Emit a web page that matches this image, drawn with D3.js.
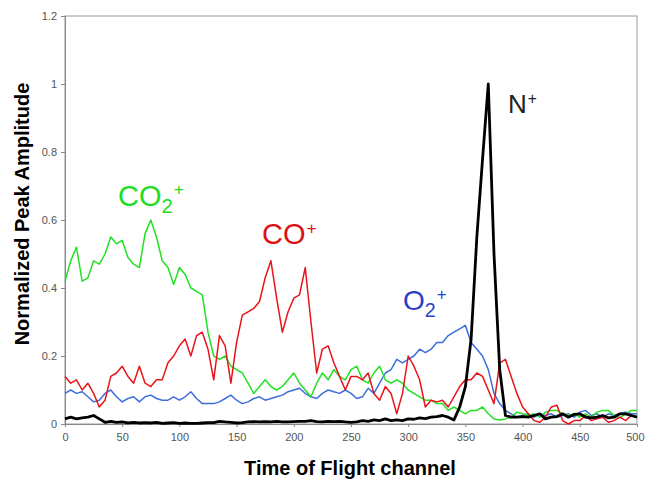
<!DOCTYPE html>
<html>
<head>
<meta charset="utf-8">
<script src="https://cdn.jsdelivr.net/npm/d3@7"></script>
<style>
  body { margin: 0; background: #fff; }
  text { font-family: "Liberation Sans", Arial, sans-serif; }
</style>
</head>
<body>
<div id="chart"></div>
<script>
// Time of flight channels (x) and normalized amplitudes
const channels = [0,5,10,15,20,25,30,35,40,45,50,55,60,65,70,75,80,85,90,95,
  100,105,110,115,120,125,130,135,140,145,150,155,160,165,170,175,180,185,190,195,
  200,205,210,215,220,225,230,235,240,245,250,255,260,265,270,275,280,285,290,295,
  300,305,310,315,320,325,330,335,340,345,350,355,360,365,370,375,380,385,390,395,
  400,405,410,415,420,425,430,435,440,445,450,455,460,465,470,475,480,485,490,495,500];

const co2Values = [0.42,0.48,0.52,0.42,0.43,0.48,0.47,0.50,0.55,0.53,0.54,0.49,0.47,0.46,0.56,0.60,0.55,0.48,0.46,0.41,
  0.46,0.44,0.40,0.39,0.38,0.27,0.20,0.19,0.20,0.17,0.16,0.15,0.12,0.09,0.11,0.13,0.11,0.10,0.11,0.13,
  0.15,0.12,0.10,0.08,0.12,0.15,0.13,0.16,0.14,0.13,0.16,0.17,0.13,0.12,0.15,0.17,0.13,0.12,0.13,0.12,
  0.10,0.09,0.08,0.07,0.07,0.06,0.06,0.04,0.05,0.04,0.03,0.04,0.04,0.05,0.03,0.015,0.012,0.015,0.02,0.035,
  0.03,0.025,0.03,0.02,0.035,0.04,0.04,0.03,0.025,0.03,0.02,0.03,0.02,0.035,0.04,0.04,0.025,0.018,0.03,0.04,0.04];

const coValues = [0.14,0.12,0.13,0.10,0.12,0.09,0.05,0.07,0.14,0.15,0.17,0.14,0.12,0.17,0.12,0.11,0.13,0.13,0.18,0.20,
  0.23,0.25,0.20,0.26,0.27,0.22,0.13,0.26,0.23,0.12,0.24,0.32,0.33,0.34,0.36,0.43,0.48,0.37,0.27,0.33,
  0.37,0.38,0.46,0.30,0.15,0.22,0.23,0.18,0.14,0.10,0.14,0.14,0.13,0.15,0.09,0.07,0.11,0.09,0.03,0.09,
  0.20,0.17,0.13,0.05,0.07,0.065,0.07,0.05,0.08,0.11,0.13,0.13,0.15,0.14,0.10,0.06,0.18,0.19,0.14,0.09,
  0.05,0.03,0.01,0.005,0.02,0.05,0.055,0.01,0.0,0.01,0.01,0.025,0.01,0.015,0.02,0.005,0.01,0.02,0.01,0.025,0.02];

const o2Values = [0.09,0.10,0.09,0.095,0.08,0.065,0.07,0.09,0.10,0.08,0.065,0.075,0.08,0.065,0.08,0.085,0.075,0.07,0.07,0.08,
  0.07,0.08,0.095,0.075,0.06,0.06,0.06,0.065,0.075,0.085,0.07,0.06,0.065,0.075,0.08,0.07,0.075,0.08,0.085,0.095,
  0.10,0.105,0.09,0.08,0.075,0.09,0.10,0.095,0.09,0.10,0.09,0.075,0.08,0.105,0.09,0.12,0.15,0.16,0.19,0.18,
  0.19,0.20,0.22,0.21,0.22,0.24,0.24,0.26,0.27,0.28,0.29,0.24,0.22,0.20,0.16,0.09,0.06,0.04,0.03,0.02,
  0.025,0.03,0.02,0.03,0.025,0.03,0.02,0.025,0.03,0.02,0.035,0.04,0.025,0.03,0.02,0.03,0.025,0.03,0.035,0.03,0.03];

const nValues = [0.015,0.02,0.015,0.018,0.02,0.025,0.015,0.005,0.008,0.005,0.006,0.003,0.005,0.003,0.004,0.003,0.005,0.002,0.003,0.004,
  0.002,0.003,0.002,0.002,0.003,0.004,0.004,0.008,0.006,0.005,0.003,0.004,0.006,0.007,0.006,0.007,0.006,0.008,0.006,0.006,
  0.007,0.008,0.008,0.01,0.007,0.006,0.008,0.007,0.008,0.006,0.005,0.006,0.01,0.008,0.012,0.01,0.015,0.01,0.012,0.01,
  0.015,0.014,0.018,0.016,0.02,0.022,0.025,0.02,0.012,0.05,0.11,0.25,0.55,0.78,1.0,0.5,0.16,0.025,0.02,0.02,
  0.022,0.02,0.025,0.03,0.015,0.02,0.022,0.03,0.02,0.028,0.03,0.02,0.018,0.02,0.025,0.018,0.02,0.03,0.03,0.025,0.02];

const xTicks = [0,50,100,150,200,250,300,350,400,450,500];
const yTicks = [0,0.2,0.4,0.6,0.8,1,1.2];

const width = 645, height = 481;
const plot = { left: 65, right: 637, top: 16, bottom: 424 };

const svg = d3.select("#chart").append("svg")
    .attr("width", width).attr("height", height);

const x = d3.scaleLinear().domain([0, 500]).range([plot.left, plot.right]);
const y = d3.scaleLinear().domain([0, 1.2]).range([plot.bottom, plot.top]);

// plot frame
svg.append("rect")
    .attr("x", plot.left).attr("y", plot.top)
    .attr("width", plot.right - plot.left).attr("height", plot.bottom - plot.top)
    .attr("fill", "none").attr("stroke", "#9a9a9a").attr("stroke-width", 1);

const xAxis = svg.append("g")
    .attr("transform", `translate(0,${plot.bottom})`)
    .call(d3.axisBottom(x).tickValues(xTicks).tickSize(3).tickPadding(6).tickFormat(d3.format("d")));
const yAxis = svg.append("g")
    .attr("transform", `translate(${plot.left},0)`)
    .call(d3.axisLeft(y).tickValues(yTicks).tickSize(4).tickPadding(4).tickFormat(d => d));

[xAxis, yAxis].forEach(ax => {
    ax.select(".domain").attr("stroke", "#888");
    ax.selectAll(".tick line").attr("stroke", "#888");
    ax.selectAll(".tick text")
        .attr("fill", "#555")
        .style("font-family", "'Liberation Sans', Arial, sans-serif")
        .style("font-size", "11px");
});
// last x label sits against the page edge
xAxis.selectAll(".tick text").filter(d => d === 500).attr("text-anchor", "end").attr("dx", 7);

const line = d3.line()
    .x((d, i) => x(channels[i]))
    .y(d => y(d));

const series = [
    { values: o2Values, color: "#3d6fdb", w: 1.5 },
    { values: co2Values, color: "#22e022", w: 1.5 },
    { values: coValues, color: "#e8141a", w: 1.5 },
    { values: nValues, color: "#000", w: 2.8 }
];

series.forEach(s => {
    svg.append("path")
        .datum(s.values)
        .attr("d", line)
        .attr("fill", "none")
        .attr("stroke", s.color)
        .attr("stroke-width", s.w)
        .attr("stroke-linejoin", "round");
});

// axis titles
svg.append("text")
    .attr("x", 350).attr("y", 475)
    .attr("text-anchor", "middle")
    .style("font-size", "20px").style("font-weight", "bold")
    .text("Time of Flight channel");

svg.append("text")
    .attr("transform", "translate(29,214) rotate(-90)")
    .attr("text-anchor", "middle")
    .style("font-size", "20px").style("font-weight", "bold")
    .text("Normalized Peak Amplitude");

// species labels
function label(px, py, base, sub, color, size) {
    const t = svg.append("text")
        .attr("x", px).attr("y", py)
        .attr("fill", color)
        .style("font-size", size + "px");
    t.append("tspan").text(base);
    if (sub) {
        t.append("tspan").attr("dy", size * 0.25).style("font-size", (size * 0.7) + "px").text(sub);
        t.append("tspan").attr("dy", -size * 0.62).attr("dx", 1).style("font-size", (size * 0.6) + "px").text("+");
    } else {
        t.append("tspan").attr("dy", -size * 0.36).attr("dx", 1).style("font-size", (size * 0.6) + "px").text("+");
    }
}

label(118, 206, "CO", "2", "#22dd22", 29);
label(262, 244, "CO", null, "#dd1111", 29);
label(403, 310, "O", "2", "#2a3fc8", 28);
label(508, 113, "N", null, "#222", 26);
</script>
</body>
</html>
